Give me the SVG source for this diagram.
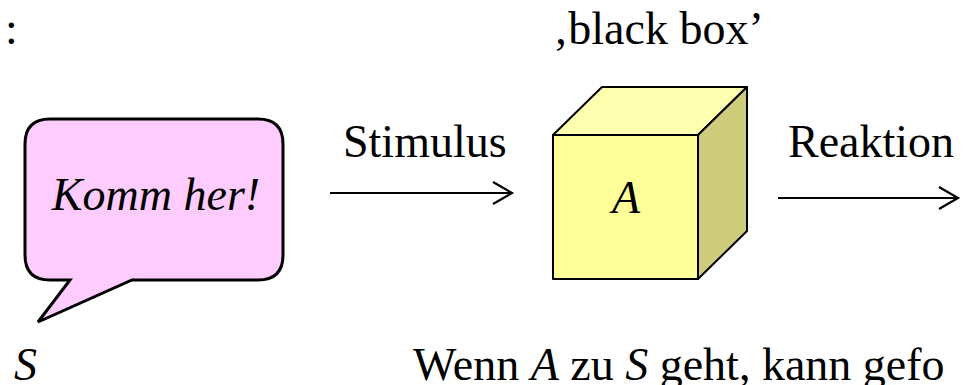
<svg xmlns="http://www.w3.org/2000/svg" width="967" height="385" viewBox="0 0 967 385">
<style>
text{font-family:"Liberation Serif","Times New Roman",serif;font-size:46px;fill:#000}
.it{font-style:italic}
.arr{fill:none;stroke:#000;stroke-width:2.2}
.edge{stroke:#000;stroke-width:2;stroke-linejoin:round}
</style>
<rect width="967" height="385" fill="#fff"/>
<text x="5" y="44">:</text>
<text x="553" y="44">‚black box’</text>
<g id="bubble">
<path d="M50,119 H258 Q283,119 283,144 V255 Q283,280 258,280 H132 L38,322 L70,280 H50 Q25,280 25,255 V144 Q25,119 50,119 Z" fill="#FFCCFF" stroke="#000" stroke-width="3" stroke-linejoin="miter"/>
<text class="it" x="156" y="210" text-anchor="middle" font-size="45">Komm her!</text>
</g>
<g id="cube">
<polygon class="edge" points="553,135 602,87 747,87 698,135" fill="#FFFFB0"/>
<polygon class="edge" points="698,135 747,87 747,231 698,279" fill="#CCCC7A"/>
<rect class="edge" x="553" y="135" width="145" height="144" fill="#FFFF99"/>
<text class="it" x="612" y="213">A</text>
</g>
<g id="connectors">
<path class="arr" d="M330,193 H512 M493,182 L512,193 L493,204"/>
<path class="arr" d="M778,198 H958 M939,187 L958,198 L939,209"/>
</g>
<text x="343" y="157">Stimulus</text>
<text x="788" y="157">Reaktion</text>
<text class="it" x="14" y="380">S</text>
<text x="413" y="380">Wenn <tspan class="it">A</tspan> zu <tspan class="it">S</tspan> geht, kann gefo</text>
</svg>
